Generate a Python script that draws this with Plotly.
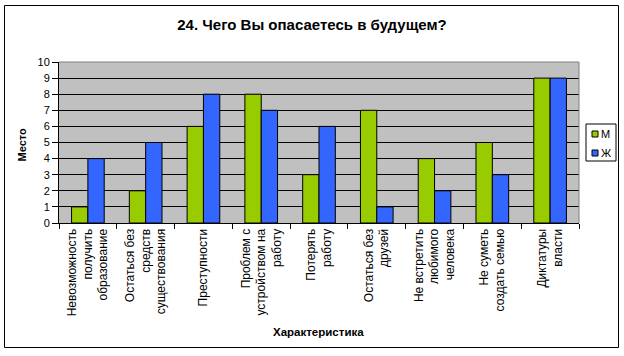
import plotly.graph_objects as go

categories = [
    "Невозможность<br>получить<br>образование",
    "Остаться без<br>средств<br>существования",
    "Преступности",
    "Проблем с<br>устройством на<br>работу",
    "Потерять<br>работу",
    "Остаться без<br>друзей",
    "Не встретить<br>любимого<br>человека",
    "Не суметь<br>создать семью",
    "Диктатуры<br>власти",
]
men = [1, 2, 6, 8, 3, 7, 4, 5, 9]
women = [4, 5, 8, 7, 6, 1, 2, 3, 9]
y_ticks = list(range(0, 11))

GREEN = "#99CC00"
BLUE = "#3366FF"
FONT = "Arial, Liberation Sans, sans-serif"

# plot-area geometry in pixels (for converting to paper coords)
W, H = 624, 356
L, R, T, B = 59, 579, 62, 223
pw, ph = R - L, B - T


def px(x):
    return (x - L) / pw


def py(y):
    return (B - y) / ph


fig = go.Figure()
fig.add_trace(go.Bar(x=categories, y=men, name="М",
                     marker=dict(color=GREEN, line=dict(color="black", width=1))))
fig.add_trace(go.Bar(x=categories, y=women, name="Ж",
                     marker=dict(color=BLUE, line=dict(color="black", width=1))))

shapes = [
    # outer chart border
    dict(type="path", xref="paper", yref="paper",
         path=(f"M{px(4.5)},{py(5.5)} L{px(618.5)},{py(5.5)} "
               f"L{px(618.5)},{py(347.5)} L{px(4.5)},{py(347.5)} Z"),
         line=dict(color="black", width=1), layer="above"),
    # plot area top/right border (gray)
    dict(type="path", xref="paper", yref="paper",
         path="M0,1 L1,1 L1,0", line=dict(color="#808080", width=1), layer="above"),
    # legend box
    dict(type="rect", xref="paper", yref="paper",
         x0=px(586), x1=px(616), y0=py(161), y1=py(124),
         line=dict(color="black", width=1), fillcolor="white"),
    dict(type="rect", xref="paper", yref="paper",
         x0=px(592), x1=px(598), y0=py(137), y1=py(131),
         line=dict(color="black", width=1), fillcolor=GREEN),
    dict(type="rect", xref="paper", yref="paper",
         x0=px(592), x1=px(598), y0=py(156), y1=py(150),
         line=dict(color="black", width=1), fillcolor=BLUE),
]

annotations = [
    dict(text="<b>Место</b>", xref="paper", yref="paper", x=px(21.5), y=py(145),
         textangle=-90, showarrow=False, font=dict(family=FONT, size=11, color="black"),
         xanchor="center", yanchor="middle"),
    dict(text="<b>Характеристика</b>", xref="paper", yref="paper", x=px(318), y=py(332),
         showarrow=False, font=dict(family=FONT, size=11.5, color="black"),
         xanchor="center", yanchor="middle"),
    dict(text="М", xref="paper", yref="paper", x=px(599), y=py(134),
         showarrow=False, font=dict(family=FONT, size=11, color="black"),
         xanchor="left", yanchor="middle"),
    dict(text="Ж", xref="paper", yref="paper", x=px(599), y=py(153),
         showarrow=False, font=dict(family=FONT, size=11, color="black"),
         xanchor="left", yanchor="middle"),
]

fig.update_layout(
    width=W, height=H,
    margin=dict(l=L, r=W - R, t=T, b=H - B, pad=0),
    paper_bgcolor="white",
    plot_bgcolor="#C0C0C0",
    showlegend=False,
    barmode="group",
    bargap=0.435,
    bargroupgap=0,
    title=dict(text="<b>24. Чего Вы опасаетесь в будущем?</b>",
               x=0.5, xanchor="center", y=1 - 25 / H, yanchor="middle",
               font=dict(family=FONT, size=15, color="black")),
    font=dict(family=FONT, size=11, color="black"),
    shapes=shapes,
    annotations=annotations,
    xaxis=dict(
        type="category",
        tickangle=-90,
        tickson="boundaries",
        ticks="outside", ticklen=5, tickcolor="black",
        showline=True, linecolor="black", linewidth=1,
        showgrid=False,
        tickfont=dict(family=FONT, size=12, color="black"),
        automargin=False,
    ),
    yaxis=dict(
        range=[0, 10],
        tickvals=y_ticks,
        ticks="outside", ticklen=6, tickcolor="black",
        showline=True, linecolor="black", linewidth=1,
        showgrid=True, gridcolor="black", gridwidth=1,
        zeroline=False,
        tickfont=dict(family=FONT, size=11, color="black"),
        automargin=False,
    ),
)

fig.write_html(
    "out.html",
    config={"displayModeBar": False},
    post_script="document.body.style.margin='0';document.body.style.overflow='hidden';",
)
